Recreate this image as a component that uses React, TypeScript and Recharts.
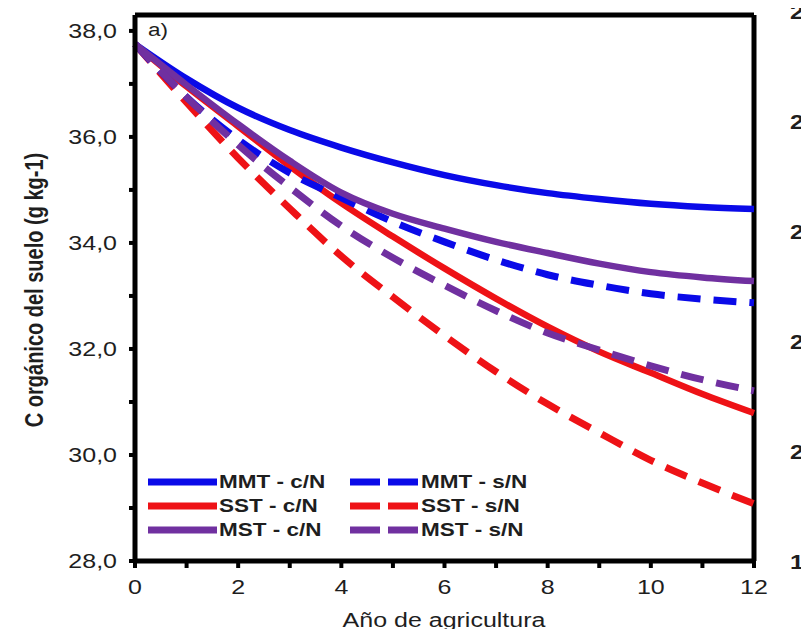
import { LineChart, Line, XAxis, YAxis, Legend, ReferenceLine } from 'recharts';

const years = [0, 1, 2, 3, 4, 5, 6, 7, 8, 9, 10, 11, 12];
const mmtCN = [37.75, 37.1, 36.55, 36.13, 35.8, 35.52, 35.28, 35.09, 34.94, 34.83, 34.74, 34.68, 34.64];
const mmtSN = [37.75, 36.75, 35.95, 35.32, 34.85, 34.4, 34.02, 33.68, 33.4, 33.2, 33.04, 32.94, 32.87];
const sstCN = [37.75, 36.95, 36.2, 35.45, 34.75, 34.12, 33.52, 32.95, 32.42, 31.95, 31.55, 31.15, 30.79];
const sstSN = [37.75, 36.65, 35.6, 34.65, 33.75, 32.98, 32.25, 31.57, 30.96, 30.42, 29.9, 29.47, 29.08];
const mstCN = [37.75, 36.98, 36.24, 35.55, 34.95, 34.55, 34.27, 34.02, 33.81, 33.61, 33.45, 33.35, 33.28];
const mstSN = [37.75, 36.75, 35.85, 35.05, 34.32, 33.72, 33.2, 32.72, 32.3, 31.98, 31.68, 31.42, 31.21];

const xTicks = [0, 1, 2, 3, 4, 5, 6, 7, 8, 9, 10, 11, 12];
const yTicks = [28, 29, 30, 31, 32, 33, 34, 35, 36, 37, 38];
// left digits of the next panel's y labels, cut by the page edge
const sideLabels = ['2', '2', '2', '2', '2', '1'];

const BLUE = '#0a0ae8';
const RED = '#ee1216';
const PURPLE = '#7030a0';
const INK = '#1e1e1e';
const FONT = 'Arial, "Liberation Sans", sans-serif';

// draw order: red under blue under purple
const series = [
  { key: 'sstCN', name: 'SST - c/N', values: sstCN, color: RED, dashed: false },
  { key: 'sstSN', name: 'SST - s/N', values: sstSN, color: RED, dashed: true },
  { key: 'mmtCN', name: 'MMT - c/N', values: mmtCN, color: BLUE, dashed: false },
  { key: 'mmtSN', name: 'MMT - s/N', values: mmtSN, color: BLUE, dashed: true },
  { key: 'mstCN', name: 'MST - c/N', values: mstCN, color: PURPLE, dashed: false },
  { key: 'mstSN', name: 'MST - s/N', values: mstSN, color: PURPLE, dashed: true },
];
const legendRows = [['mmtCN', 'mmtSN'], ['sstCN', 'sstSN'], ['mstCN', 'mstSN']];

const data = years.map((y, i) => {
  const row: any = { year: y };
  series.forEach(s => { row[s.key] = s.values[i]; });
  return row;
});

const STRETCH = 1.25;

const XTick = ({ x, y, payload }: any) => {
  if (payload.value % 2 !== 0) return null;
  return (
    <text transform={`translate(${x},${y}) scale(${STRETCH},1)`} textAnchor="middle" dy="0.71em"
      fontSize={20} fontFamily={FONT} fill={INK}>{payload.value}</text>
  );
};

const YTick = ({ x, y, payload }: any) => {
  if (payload.value % 2 !== 0) return null;
  return (
    <text transform={`translate(${x},${y}) scale(${STRETCH},1)`} textAnchor="end" dy="0.355em"
      fontSize={20} fontFamily={FONT} fill={INK}>{payload.value.toFixed(1).replace('.', ',')}</text>
  );
};

const LegendBox = () => {
  const byKey: Record<string, any> = {};
  series.forEach(s => { byKey[s.key] = s; });
  return (
    <div style={{ position: 'relative', width: 0, height: 0 }}>
      <svg width={809} height={637} style={{ position: 'absolute', left: 0, top: 0, overflow: 'visible', pointerEvents: 'none' }}>
        {legendRows.map((row, r) => row.map((k, c) => {
          const s = byKey[k];
          const x0 = c === 0 ? 148 : 350;
          const cy = 482 + r * 24;
          return (
            <g key={k}>
              <line x1={x0} x2={x0 + 69} y1={cy} y2={cy} stroke={s.color} strokeWidth={7}
                strokeDasharray={s.dashed ? '30 8' : undefined} />
              <text transform={`translate(${x0 + 71},${cy}) scale(${STRETCH},1)`} dy="0.36em"
                fontSize={18} fontWeight="bold" fontFamily={FONT} fill={INK}>{s.name}</text>
            </g>
          );
        }))}
      </svg>
    </div>
  );
};

export default function App() {
  return (
    <div style={{ margin: -8, width: 809, height: 637, background: '#fff' }}>
      <LineChart width={809} height={637} data={data} margin={{ top: 15, right: 55, bottom: 0, left: 0 }}>
        <XAxis
          dataKey="year"
          type="number"
          domain={[0, 12]}
          ticks={xTicks}
          interval={0}
          height={76}
          tickSize={7}
          tickMargin={12}
          axisLine={{ stroke: '#000', strokeWidth: 5 }}
          tickLine={{ stroke: '#000', strokeWidth: 4 }}
          tick={<XTick />}
        />
        <YAxis
          type="number"
          domain={[28, 38.3]}
          ticks={yTicks}
          interval={0}
          width={135}
          tickSize={6}
          tickMargin={12}
          allowDataOverflow
          axisLine={{ stroke: '#000', strokeWidth: 5 }}
          tickLine={{ stroke: '#000', strokeWidth: 4 }}
          tick={<YTick />}
        />
        <ReferenceLine y={38.3} stroke="#000" strokeWidth={5} />
        <ReferenceLine x={12} stroke="#000" strokeWidth={5} />
        {series.map(s => (
          <Line
            key={s.key}
            type="monotone"
            dataKey={s.key}
            name={s.name}
            stroke={s.color}
            strokeWidth={s.dashed ? 7 : 6.5}
            strokeDasharray={s.dashed ? '23 13' : undefined}
            dot={false}
            activeDot={false}
            isAnimationActive={false}
          />
        ))}
        <Legend content={<LegendBox />} wrapperStyle={{ left: 0, top: 0, width: 0, height: 0 }} />
        <text transform={`translate(148,36) scale(${STRETCH},1)`} fontSize={18} fontFamily={FONT} fill={INK}>a)</text>
        <text transform={`translate(444,627) scale(${STRETCH},1)`} textAnchor="middle" fontSize={20}
          fontFamily={FONT} fill={INK}>Año de agricultura</text>
        <text transform={`translate(34,290) rotate(-90) scale(1,${STRETCH})`} textAnchor="middle" dy="0.36em"
          fontSize={20} fontWeight="bold" fontFamily={FONT} fill={INK}>C orgánico del suelo (g kg-1)</text>
        {sideLabels.map((t, i) => (
          <text key={i} transform={`translate(790,${12 + i * 110}) scale(${STRETCH},1)`} dy="0.355em"
            fontSize={20} fontWeight="bold" fontFamily={FONT} fill={INK}>{t}</text>
        ))}
      </LineChart>
    </div>
  );
}
